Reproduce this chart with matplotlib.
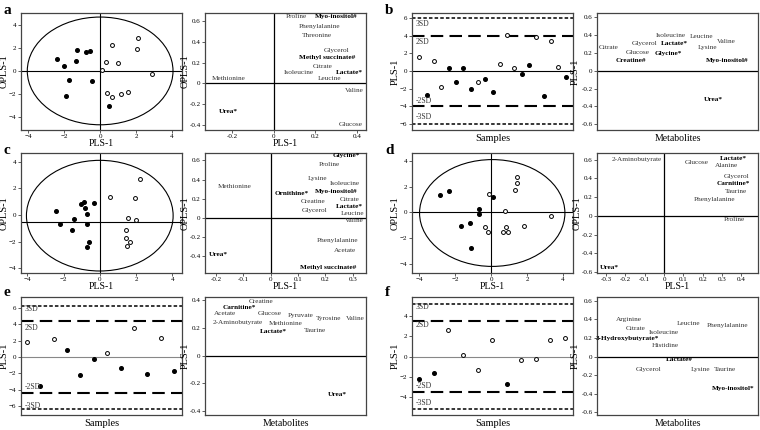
import numpy as np
import matplotlib.pyplot as plt
from matplotlib.patches import Ellipse

plt.rcParams['font.family'] = ['Liberation Serif', 'DejaVu Serif']

# ---- panel a: score plot ----
a_fill_x = [-2.41, -2.0, -1.30, -1.37, -0.81, -0.54, -1.74, -0.46, -1.91, 0.5]
a_fill_y = [1.0, 0.43, 1.77, 0.83, 1.63, 1.69, -0.8, -0.86, -2.14, -3.03]
a_open_x = [0.65, 2.11, 2.07, 0.31, 0.98, 0.11, 2.89, 0.39, 0.67, 1.17, 1.56]
a_open_y = [2.2, 2.83, 1.89, 0.8, 0.69, 0.09, -0.29, -1.89, -2.26, -2.03, -1.8]

# ---- panel a: loadings ----
a_names = ['Proline', 'Myo-inositol#', 'Phenylalanine', 'Threonine', 'Glycerol',
           'Methyl succinate#', 'Citrate', 'Isoleucine', 'Lactate*', 'Leucine',
           'Methionine', 'Valine', 'Urea*', 'Glucose']
a_px = [0.11, 0.30, 0.218, 0.206, 0.30, 0.258, 0.234, 0.121, 0.363, 0.266,
        -0.218, 0.387, -0.218, 0.368]
a_py = [0.646, 0.646, 0.55, 0.464, 0.314, 0.25, 0.166, 0.106, 0.109, 0.048,
        0.048, -0.07, -0.272, -0.394]

# ---- panel b: samples ----
b_vals = [1.61, -2.73, 1.09, -1.84, 0.3, -1.24, 0.37, -2.02, -1.27, -0.94, -2.36,
          0.75, 4.08, 0.34, -0.34, 0.67, 3.9, -2.85, 3.45, 0.49, -0.67]
b_open = [1, 0, 1, 1, 0, 0, 0, 0, 1, 0, 0, 1, 1, 1, 0, 0, 1, 0, 1, 1, 0]
b_names = ['Citrate', 'Glycerol', 'Glucose', 'Creatine#', 'Isoleucine', 'Lactate*',
           'Glycine*', 'Leucine', 'Lysine', 'Valine', 'Myo-inositol#', 'Urea*']
b_px = [0.072, 0.296, 0.25, 0.213, 0.458, 0.482, 0.441, 0.648, 0.685, 0.803, 0.807, 0.72]
b_py = [0.26, 0.30, 0.20, 0.11, 0.39, 0.30, 0.195, 0.387, 0.26, 0.33, 0.114, -0.32]

# ---- panel c ----
c_fill_x = [-2.41, -2.22, -1.44, -1.52, -1.02, -0.89, -0.80, -0.69, -0.70, -0.33, -0.61, -0.70]
c_fill_y = [0.33, -0.65, -0.28, -1.1, 0.85, 0.98, 0.53, 0.1, -0.68, 0.9, -2.03, -2.43]
c_open_x = [0.56, 2.22, 1.94, 1.57, 2.0, 1.44, 1.43, 1.48, 1.67]
c_open_y = [1.35, 2.73, 1.3, -0.23, -0.35, -1.13, -1.7, -2.3, -2.03]
c_names = ['Glycine*', 'Proline', 'Lysine', 'Isoleucine', 'Methionine', 'Ornithine*',
           'Myo-inositol#', 'Citrate', 'Creatine', 'Lactate*', 'Glycerol', 'Leucine',
           'Valine', 'Phenylalanine', 'Acetate', 'Urea*', 'Methyl succinate#']
c_px = [0.275, 0.215, 0.172, 0.27, -0.131, 0.075, 0.239, 0.288, 0.154, 0.288, 0.16,
        0.30, 0.306, 0.245, 0.27, -0.19, 0.209]
c_py = [0.65, 0.555, 0.41, 0.357, 0.325, 0.26, 0.272, 0.19, 0.166, 0.12, 0.074,
        0.042, -0.03, -0.233, -0.34, -0.38, -0.516]

# ---- panel d ----
d_fill_x = [-2.83, -2.33, -0.70, -0.70, -1.67, -1.17, -1.11, 0.13]
d_fill_y = [1.34, 1.65, 0.31, -0.13, -1.03, -0.83, -2.79, 1.24]
d_open_x = [-0.13, 1.46, 1.46, 1.33, 0.78, 3.33, 1.8, 0.83, 0.96, 0.65, -0.33, -0.15]
d_open_y = [1.47, 2.76, 2.3, 1.78, 0.08, -0.26, -1.06, -1.14, -1.5, -1.5, -1.16, -1.55]
d_names = ['2-Aminobutyrate', 'Glucose', 'Lactate*', 'Alanine', 'Glycerol', 'Carnitine*',
           'Taurine', 'Phenylalanine', 'Proline', 'Urea*']
d_px = [-0.143, 0.171, 0.357, 0.322, 0.374, 0.357, 0.374, 0.262, 0.366, -0.281]
d_py = [0.60, 0.571, 0.618, 0.535, 0.426, 0.347, 0.257, 0.173, -0.04, -0.55]

# ---- panel e ----
e_vals = [1.87, -3.5, 2.2, 0.81, -2.24, -0.28, 0.49, -1.3, 3.5, -2.11, 2.36, -1.67]
e_open = [1, 0, 1, 0, 0, 0, 1, 0, 1, 0, 1, 0]
e_names = ['Creatine', 'Carnitine*', 'Acetate', 'Glucose', 'Pyruvate', 'Tyrosine',
           'Valine', '2-Aminobutyrate', 'Methionine', 'Lactate*', 'Taurine', 'Urea*']
e_px = [0.347, 0.211, 0.126, 0.40, 0.592, 0.77, 0.937, 0.205, 0.498, 0.425, 0.686, 0.822]
e_py = [0.389, 0.35, 0.305, 0.305, 0.29, 0.273, 0.273, 0.244, 0.232, 0.176, 0.184, -0.283]

# ---- panel f ----
f_vals = [-2.23, -1.64, 2.56, 0.16, -1.28, 1.64, -2.69, -0.33, -0.2, 1.64, 1.8]
f_open = [0, 0, 1, 1, 1, 1, 0, 1, 1, 1, 1]
f_names = ['Arginine', 'Citrate', 'Isoleucine', 'Leucine', 'Phenylalanine',
           '3-Hydroxybutyrate*', 'Histidine', 'Lactate#', 'Glycerol', 'Lysine',
           'Taurine', 'Myo-inositol*']
f_px = [0.198, 0.24, 0.417, 0.567, 0.8125, 0.1875, 0.427, 0.51, 0.323, 0.646, 0.792, 0.844]
f_py = [0.404, 0.306, 0.263, 0.353, 0.332, 0.191, 0.115, -0.036, -0.137, -0.137, -0.144, -0.342]

W, H = 760, 430
fig = plt.figure(figsize=(7.6, 4.3), dpi=100)
cols = [21, 205, 412, 597]
rows = [(13, 130), (153, 273), (297, 415)]
FR = '#444444'
TS = 5  # tick size


def axes_at(col, row):
    x0 = cols[col]
    top, bot = rows[row]
    ax = fig.add_axes([x0 / W, 1 - bot / H, 161 / W, (bot - top) / H])
    for s in ax.spines.values():
        s.set_color(FR)
        s.set_linewidth(0.9)
    ax.tick_params(labelsize=TS, length=2, width=0.6, color=FR, pad=1.2)
    return ax


def score_plot(ax, fx, fy, ox, oy, xlim, ylim, ell, ylab, h0=0):
    ax.add_patch(Ellipse(ell[:2], ell[2], ell[3], fill=False, lw=0.8, ec='black'))
    ax.axhline(h0, color='black', lw=0.8)
    ax.axvline(0, color='black', lw=0.8)
    ax.plot(fx, fy, 'o', color='black', ms=2.6)
    ax.plot(ox, oy, 'o', mfc='white', mec='black', mew=0.7, ms=2.8)
    ax.set_xlim(xlim)
    ax.set_ylim(ylim)
    ax.set_xticks([-4, -2, 0, 2, 4])
    ax.set_yticks([-4, -2, 0, 2, 4])
    ax.set_xlabel('PLS-1', fontsize=7, labelpad=0)
    ax.set_ylabel(ylab, fontsize=7.5, labelpad=0)


def load_plot(ax, names, px, py, xlim, ylim, xticks, yticks, xlab, ylab, ylpad, axis0=True):
    ax.axhline(0, color='black', lw=0.9)
    if axis0:
        ax.axvline(0, color='black', lw=0.9)
    for n, x, y in zip(names, px, py):
        bold = n.endswith('*') or n.endswith('#')
        ax.text(x, y, n, fontsize=5.2, ha='center', va='center',
                fontweight='bold' if bold else 'normal',
                color='black' if bold else '#333333')
    ax.set_xlim(xlim)
    ax.set_ylim(ylim)
    ax.set_xticks(xticks)
    if xticks:
        ax.set_xticklabels([('%g' % t) for t in xticks])
    ax.set_yticks(yticks)
    ax.set_yticklabels([('%g' % t) for t in yticks])
    ax.set_xlabel(xlab, fontsize=7, labelpad=0 if xticks else 3)
    ax.set_ylabel(ylab, fontsize=7.5, labelpad=ylpad)


def sample_plot(ax, vals, opn, xlim, ylim, sd2, sd3, lab_y, yticks, zc):
    xs = np.arange(1, len(vals) + 1)
    ax.axhline(0, color=zc, lw=0.8)
    for v in (sd3, -sd3):
        ax.axhline(v, color='black', lw=1.1, ls=(0, (2.3, 1.4)))
    for v in (sd2, -sd2):
        ax.axhline(v, color='black', lw=1.5, ls=(0, (6, 3)))
    vals = np.array(vals)
    opn = np.array(opn, bool)
    ax.plot(xs[~opn], vals[~opn], 'o', color='black', ms=2.6)
    ax.plot(xs[opn], vals[opn], 'o', mfc='white', mec='black', mew=0.7, ms=2.8)
    for t, y in zip(['3SD', '2SD', '-2SD', '-3SD'], lab_y):
        ax.text(xlim[0] + 0.02 * (xlim[1] - xlim[0]), y, t, fontsize=5.5, va='center',
                color='#333333')
    ax.set_xlim(xlim)
    ax.set_ylim(ylim)
    ax.set_xticks([])
    ax.set_yticks(yticks)
    ax.set_xlabel('Samples', fontsize=7.5, labelpad=3)
    ax.set_ylabel('PLS-1', fontsize=7.5, labelpad=0)


# a
ax = axes_at(0, 0)
score_plot(ax, a_fill_x, a_fill_y, a_open_x, a_open_y, (-4.4, 4.55), (-5.1, 5.0),
           (0.0, 0.0, 8.1, 9.3), 'OPLS-1')
ax = axes_at(1, 0)
load_plot(ax, a_names, a_px, a_py, (-0.33, 0.443), (-0.448, 0.678), [-0.2, 0, 0.2, 0.4],
          [-0.4, -0.2, 0, 0.2, 0.4, 0.6], 'PLS-1', 'OPLS-1', 0)

# b
ax = axes_at(2, 0)
sample_plot(ax, b_vals, b_open, (0, 22), (-6.7, 6.6), 3.95, 6.0,
            [5.36, 3.26, -3.37, -5.24], [-6, -4, -2, 0, 2, 4, 6], 'black')
ax = axes_at(3, 0)
load_plot(ax, b_names, b_px, b_py, (0, 1), (-0.663, 0.645), [],
          [-0.6, -0.4, -0.2, 0, 0.2, 0.4, 0.6], 'Metabolites', 'PLS-1', 1, axis0=False)

# c
ax = axes_at(0, 1)
score_plot(ax, c_fill_x, c_fill_y, c_open_x, c_open_y, (-4.35, 4.54), (-4.35, 4.65),
           (0.0, -0.05, 8.1, 8.3), 'OPLS-1', h0=-0.55)
ax = axes_at(1, 1)
load_plot(ax, c_names, c_px, c_py, (-0.24, 0.348), (-0.576, 0.678),
          [-0.2, -0.1, 0, 0.1, 0.2, 0.3], [-0.4, -0.2, 0, 0.2, 0.4, 0.6], 'PLS-1', 'OPLS-1', 0)

# d
ax = axes_at(2, 1)
score_plot(ax, d_fill_x, d_fill_y, d_open_x, d_open_y, (-4.4, 4.55), (-4.73, 4.65),
           (0.06, -0.04, 8.08, 8.35), 'OPLS-1')
ax = axes_at(3, 1)
load_plot(ax, d_names, d_px, d_py, (-0.347, 0.486), (-0.611, 0.672),
          [-0.3, -0.2, -0.1, 0, 0.1, 0.2, 0.3, 0.4], [-0.6, -0.4, -0.2, 0, 0.2, 0.4, 0.6],
          'PLS-1', 'OPLS-1', 0)

# e
ax = axes_at(0, 2)
sample_plot(ax, e_vals, e_open, (0.55, 12.6), (-7.05, 7.3), 4.37, 6.26,
            [5.8, 3.5, -3.7, -5.9], [-6, -4, -2, 0, 2, 4, 6], '#888888')
ax = axes_at(1, 2)
load_plot(ax, e_names, e_px, e_py, (0, 1), (-0.428, 0.425), [],
          [-0.4, -0.2, 0, 0.2, 0.4], 'Metabolites', 'PLS-1', 0, axis0=False)

# f
ax = axes_at(2, 2)
sample_plot(ax, f_vals, f_open, (0.5, 11.55), (-5.74, 5.84), 3.5, 5.2,
            [4.9, 3.1, -2.9, -4.6], [-4, -2, 0, 2, 4], '#888888')
ax = axes_at(3, 2)
load_plot(ax, f_names, f_px, f_py, (0, 1), (-0.63, 0.641), [],
          [-0.6, -0.4, -0.2, 0, 0.2, 0.4, 0.6], 'Metabolites', 'PLS-1', 1, axis0=False)

for t, x, y in [('a', 3, 10), ('b', 385, 10), ('c', 3, 150), ('d', 385, 150),
                ('e', 3, 293), ('f', 385, 293)]:
    fig.text(x / W, 1 - y / H, t, fontsize=11, fontweight='bold', va='center')

fig.savefig('out.png', dpi=100)
